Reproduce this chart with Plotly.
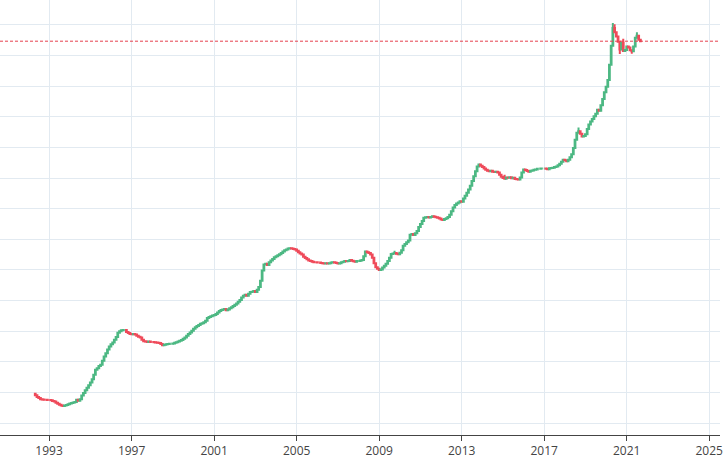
import plotly.graph_objects as go
import pandas as pd

start_month = "1992-05-01"
first_open = 29.6

closes_by_year = {
    1992: [29.1, 28.5, 28.2, 27.8, 27.7, 27.6, 27.6, 27.5],
    1993: [27.5, 27.4, 27.2, 27.0, 26.6, 26.3, 26.0, 25.7, 25.6, 25.7, 25.9, 26.1],
    1994: [26.4, 26.5, 26.7, 26.9, 27.6, 27.3, 27.8, 29.0, 29.8, 30.7, 31.5, 32.3],
    1995: [33.2, 34.3, 35.8, 37.4, 37.9, 38.6, 39.0, 40.3, 41.7, 42.8, 44.0, 45.0],
    1996: [45.7, 46.3, 47.2, 48.1, 49.5, 50.0, 50.3, 50.4, 50.4, 49.7, 49.4, 49.1],
    1997: [49.0, 49.1, 48.9, 48.5, 48.2, 47.9, 47.2, 46.7, 46.6, 46.5, 46.6, 46.5],
    1998: [46.5, 46.4, 46.3, 46.2, 46.1, 45.8, 45.4, 45.6, 45.7, 45.8, 45.9, 45.9],
    1999: [46.0, 46.2, 46.4, 46.6, 46.9, 47.1, 47.5, 47.9, 48.5, 49.1, 49.6, 50.1],
    2000: [50.8, 51.3, 51.7, 52.0, 52.4, 52.6, 52.9, 53.4, 54.3, 54.6, 54.9, 55.1],
    2001: [55.3, 55.6, 56.1, 56.6, 56.9, 57.1, 57.2, 56.8, 57.1, 57.5, 57.8, 58.2],
    2002: [58.6, 59.0, 59.6, 60.2, 61.0, 61.6, 61.9, 61.6, 62.2, 62.8, 62.9, 63.1],
    2003: [62.8, 63.5, 64.4, 66.5, 69.8, 71.8, 72.0, 71.6, 72.5, 73.1, 73.6, 74.1],
    2004: [74.5, 74.8, 75.1, 75.5, 76.0, 76.4, 76.7, 77.0, 77.1, 77.0, 76.8, 76.7],
    2005: [76.3, 75.8, 75.4, 75.0, 74.3, 73.9, 73.5, 73.1, 72.9, 72.7, 72.5, 72.5],
    2006: [72.4, 72.4, 72.3, 72.2, 72.1, 72.2, 72.1, 72.2, 72.4, 72.5, 72.4, 72.3],
    2007: [72.1, 72.2, 72.5, 72.7, 72.9, 72.8, 72.9, 73.2, 73.0, 72.8, 72.7, 72.9],
    2008: [72.9, 73.1, 73.2, 74.5, 76.0, 75.8, 75.5, 75.0, 74.0, 72.2, 70.9, 70.4],
    2009: [70.0, 70.1, 70.8, 71.4, 72.0, 72.9, 74.0, 75.2, 75.4, 75.5, 75.3, 75.1],
    2010: [75.6, 76.4, 77.9, 78.5, 79.0, 79.6, 81.5, 81.7, 81.4, 82.0, 82.7, 84.0],
    2011: [85.0, 86.0, 87.0, 87.2, 87.3, 87.1, 87.3, 87.5, 87.4, 87.2, 87.0, 86.8],
    2012: [86.5, 86.3, 86.6, 86.9, 87.3, 88.0, 89.2, 90.4, 91.2, 91.7, 92.0, 92.4],
    2013: [92.3, 93.3, 94.2, 95.2, 96.3, 97.5, 99.0, 100.6, 102.2, 103.8, 104.4, 104.0],
    2014: [103.6, 103.1, 102.7, 102.4, 102.2, 102.4, 102.1, 102.0, 102.1, 101.8, 101.1, 100.4],
    2015: [100.0, 99.8, 100.2, 100.1, 100.3, 99.9, 100.1, 99.7, 99.6, 99.5, 100.2, 101.8],
    2016: [102.8, 102.6, 102.3, 102.1, 102.4, 102.5, 102.7, 102.8, 103.0, 103.0, 103.1, 103.1],
    2017: [103.1, 103.0, 102.9, 103.2, 103.3, 103.4, 103.6, 103.8, 104.2, 104.7, 105.3, 106.0],
    2018: [105.8, 105.5, 106.0, 106.8, 107.8, 109.8, 112.5, 114.8, 115.3, 114.5, 113.6, 113.7],
    2019: [114.3, 116.0, 117.5, 118.5, 119.3, 120.2, 121.0, 122.3, 122.0, 123.8, 125.8, 128.0],
    2020: [129.8, 132.0, 137.0, 143.2, 149.0, 147.6, 146.2, 144.5, 142.0, 144.2, 141.5, 141.8],
    2021: [143.0, 142.6, 141.7, 141.4, 143.0, 145.8, 146.5, 145.2, 144.7],
}

wick_high = {"2009-10": 76.3, "2015-02": 101.1, "2018-09": 116.5, "2020-05": 150.6,
             "2020-06": 150.2, "2020-11": 145.5, "2021-07": 147.6}
wick_low = {"2020-09": 140.5, "2021-04": 140.6}

tick_start = "1993-01-01"

closes = [v for y in sorted(closes_by_year) for v in closes_by_year[y]]
dates = pd.date_range(start_month, periods=len(closes), freq="MS")
opens = [first_open] + closes[:-1]
highs, lows = [], []
for d, o, c in zip(dates, opens, closes):
    key = d.strftime("%Y-%m")
    highs.append(max(wick_high.get(key, o), o, c))
    lows.append(min(wick_low.get(key, o), o, c))

UP = "#4cb883"
DOWN = "#ef4a5a"

fig = go.Figure(go.Candlestick(
    x=dates, open=opens, high=highs, low=lows, close=closes,
    increasing=dict(line=dict(color=UP, width=2), fillcolor=UP),
    decreasing=dict(line=dict(color=DOWN, width=2), fillcolor=DOWN),
    showlegend=False, hoverinfo="skip",
))

fig.add_hline(y=closes[-1], line=dict(color="#e5404f", width=1, dash="3px,2px"))

fig.update_layout(
    width=723, height=459,
    margin=dict(l=0, r=0, t=0, b=23),
    paper_bgcolor="white", plot_bgcolor="white",
    font=dict(family="Open Sans, sans-serif", size=12, color="#444"),
    xaxis=dict(
        type="date", range=["1990-08-16", "2025-07-11"],
        tick0=tick_start, dtick="M48", tickformat="%Y",
        showgrid=True, gridcolor="#e2eaf1", gridwidth=1,
        showline=True, linecolor="#444", linewidth=1,
        ticks="outside", ticklen=5, tickcolor="#444",
        ticklabeloverflow="allow",
        rangeslider=dict(visible=False), zeroline=False,
    ),
    yaxis=dict(
        range=[16.09, 158.15], tick0=0, dtick=10,
        showgrid=True, gridcolor="#e2eaf1", gridwidth=1,
        showticklabels=False, zeroline=False, showline=False, ticks="",
    ),
)

fig.write_html("out.html")
